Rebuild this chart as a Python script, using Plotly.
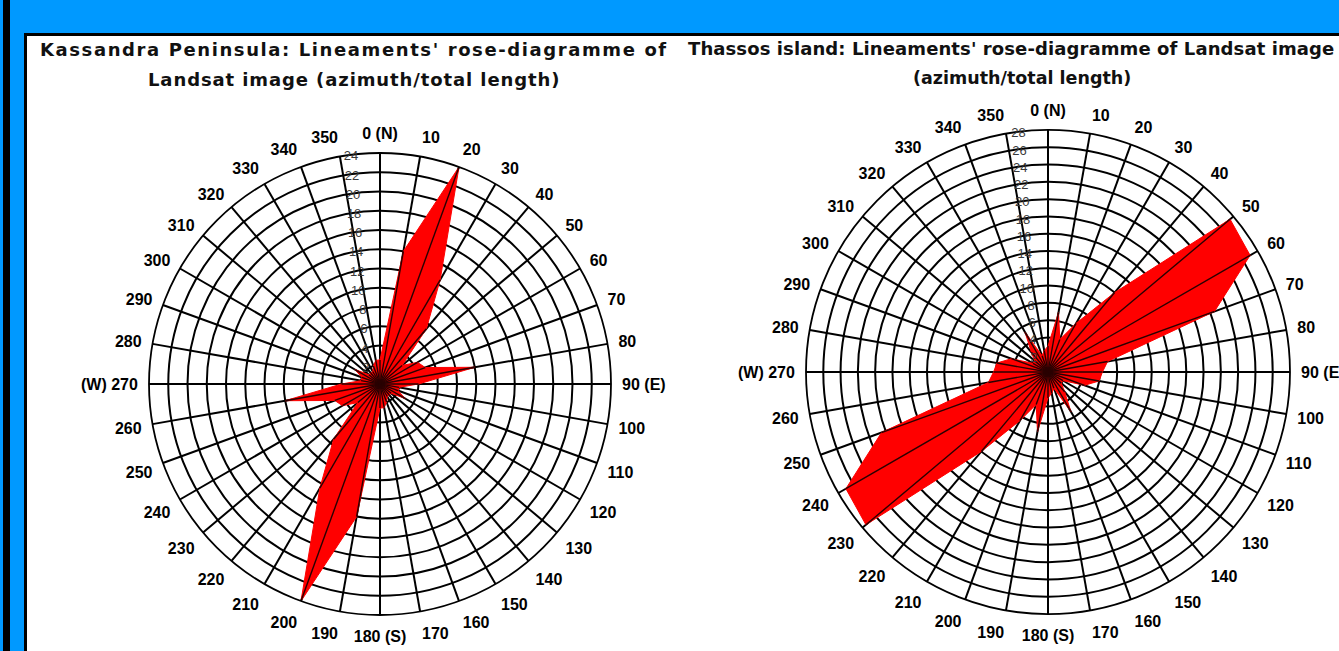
import plotly.graph_objects as go

W, H = 1339, 651

# ---- data ----
AZIMUTH = list(range(0, 360, 10))

# Kassandra Peninsula: total length per 10-degree azimuth class
KASSANDRA_LEN = [2.5, 14, 24, 12.5, 7.5, 3, 4.5, 5, 10, 4, 2, 2, 3, 1.5, 1.5, 1.5, 2, 2.5,
                 2.5, 14, 24, 12.5, 7.5, 3, 4.5, 5, 10, 4, 2, 2, 3, 1.5, 1.5, 1.5, 2, 2.5]

# Thassos island: total length per 10-degree azimuth class
THASSOS_LEN = [3, 7, 4, 6.5, 12, 27.5, 27, 20.5, 7, 6.3, 6, 4.5, 2, 2, 3, 5.3, 2, 2.5,
               3, 7, 4, 6.5, 12, 27.5, 27, 20.5, 7, 6.3, 6, 4.5, 2, 2, 3, 5.3, 2, 2.5]

ANG_TICKS = list(range(0, 360, 10))
ANG_TEXT = [("0 (N)" if a == 0 else "90 (E)" if a == 90 else "180 (S)" if a == 180
             else "(W) 270" if a == 270 else str(a)) for a in ANG_TICKS]

KAS_RTICKS = list(range(2, 25, 2))
THA_RTICKS = list(range(2, 29, 2))

TITLE_LEFT = ["Kassandra Peninsula: Lineaments' rose-diagramme of",
              "Landsat image (azimuth/total length)"]
TITLE_RIGHT = ["Thassos island: Lineaments' rose-diagramme of Landsat image",
               "(azimuth/total length)"]

BLUE = "#0099FF"
RED = "#FF0000"

fig = go.Figure()


def add_rose(values, subplot):
    fig.add_trace(go.Scatterpolar(
        r=values + values[:1], theta=AZIMUTH + AZIMUTH[:1], mode="lines",
        fill="toself", fillcolor=RED, line=dict(color=RED, width=1),
        subplot=subplot, showlegend=False, hoverinfo="skip"))
    rr, tt = [], []
    for a, v in zip(AZIMUTH, values):
        rr += [0, v, None]
        tt += [a, a, None]
    fig.add_trace(go.Scatterpolar(
        r=rr, theta=tt, mode="lines", line=dict(color="#2a0000", width=1.4),
        subplot=subplot, showlegend=False, hoverinfo="skip"))


add_rose(KASSANDRA_LEN, "polar")
add_rose(THASSOS_LEN, "polar2")


def polar_cfg(cx, cy, rad, rmax, rticks):
    return dict(
        domain=dict(x=[(cx - rad) / W, (cx + rad) / W],
                    y=[(H - cy - rad) / H, (H - cy + rad) / H]),
        bgcolor="white",
        angularaxis=dict(rotation=90, direction="clockwise", tickmode="array",
                         tickvals=ANG_TICKS, ticktext=ANG_TEXT,
                         ticks="outside", ticklen=7, tickcolor="rgba(0,0,0,0)",
                         showgrid=True, gridcolor="black", gridwidth=1.5,
                         showline=True, linecolor="black", linewidth=1.8,
                         tickfont=dict(family="Liberation Sans", size=16,
                                       color="black", weight="bold")),
        radialaxis=dict(range=[0, rmax], tickmode="array", tickvals=rticks,
                        showline=False, ticks="", angle=93, side="counterclockwise",
                        tickangle=93,
                        showgrid=True, gridcolor="black", gridwidth=1.5,
                        tickfont=dict(family="Liberation Sans", size=13, color="#3a3a3a")),
    )


def title_line(text, x, yc, size, spacing, anchor="center"):
    return dict(text='<span style="letter-spacing:%.2fpx">' % spacing + text + '</span>',
                xref="paper", yref="paper", x=x / W, y=(H - yc) / H,
                xanchor=anchor, yanchor="middle", showarrow=False, align="center",
                font=dict(family="DejaVu Sans", size=size, color="#111111", weight="bold"))


fig.update_layout(
    width=W, height=H, margin=dict(l=0, r=0, t=0, b=0),
    paper_bgcolor=BLUE, plot_bgcolor=BLUE,
    polar=polar_cfg(380, 384, 231, 24, KAS_RTICKS),
    polar2=polar_cfg(1048, 372, 242, 28, THA_RTICKS),
    shapes=[
        dict(type="rect", xref="paper", yref="paper", layer="below",
             x0=25.5 / W, x1=1.2, y0=-0.2, y1=(H - 34.5) / H,
             fillcolor="white", line=dict(color="black", width=3)),
        dict(type="rect", xref="paper", yref="paper", layer="below",
             x0=3 / W, x1=10 / W, y0=-0.1, y1=1.1,
             fillcolor="black", line=dict(width=0)),
    ],
    annotations=[
        title_line(TITLE_LEFT[0], 354, 50, 18, 1.6),
        title_line(TITLE_LEFT[1], 354, 80, 18, 0.9),
        title_line(TITLE_RIGHT[0], 686, 48, 18, 0.1, anchor="left"),
        title_line(TITLE_RIGHT[1], 1022, 78, 17.5, 0.0),
    ],
)

fig.write_html("out.html", config={"displayModeBar": False},
               post_script="document.body.style.margin='0';")
